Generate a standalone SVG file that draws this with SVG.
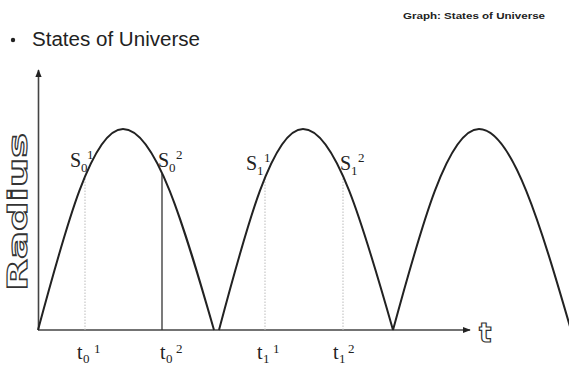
<svg xmlns="http://www.w3.org/2000/svg" width="569" height="367" viewBox="0 0 569 367">
<defs>
<style>
.ax{stroke:#444;stroke-width:1.6;fill:none}
.cv{stroke:#222;stroke-width:2;fill:none}
.dot{stroke:#bbb;stroke-width:1;stroke-dasharray:1.5 1.5}
.sol{stroke:#333;stroke-width:1.3}
.lbl{font-family:"Liberation Serif","Times New Roman",serif;fill:#222}
.big{font-size:20px}
.sm{font-size:13px}
.hollow{font-family:"DejaVu Sans","Liberation Sans",sans-serif;font-weight:bold;fill:#fff;stroke:#333;stroke-width:1.2}
</style>
<marker id="ah" viewBox="0 0 10 10" refX="9" refY="5" markerWidth="5" markerHeight="5" orient="auto">
<path d="M0,1 L10,5 L0,9 z" fill="#222"/>
</marker>
</defs>
<rect width="569" height="367" fill="#fff"/>
<text x="545" y="19" text-anchor="end" font-family="Liberation Sans,Arial,sans-serif" font-size="9" font-weight="bold" fill="#222" textLength="142" lengthAdjust="spacingAndGlyphs">Graph: States of Universe</text>
<g id="title" font-family="Liberation Sans,Arial,sans-serif" fill="#222">
<circle cx="13" cy="40" r="2.2"/>
<text x="32" y="46" font-size="20" textLength="168" lengthAdjust="spacingAndGlyphs">States of Universe</text>
</g>
<g id="axes">
<line class="ax" x1="38.5" y1="330" x2="38.5" y2="70" marker-end="url(#ah)"/>
<line class="ax" x1="38" y1="330" x2="470" y2="330" marker-end="url(#ah)"/>
<text class="hollow" transform="translate(27,291) rotate(-90)" font-size="27" textLength="158" lengthAdjust="spacingAndGlyphs">Radius</text>
<text class="hollow" x="479" y="342" font-size="26" font-family="Liberation Serif,serif">t</text>
</g>
<g id="guides">
<line class="dot" x1="85" y1="330" x2="85" y2="177"/>
<line class="sol" x1="162" y1="330" x2="162" y2="174"/>
<line class="dot" x1="265" y1="330" x2="265" y2="178"/>
<line class="dot" x1="343" y1="330" x2="343" y2="176"/>
</g>
<g id="curves">
<path class="cv" d="M38,330 C65.7,227 92.2,129 123,129 C155.9,129 184.3,227 214,330"/>
<path class="cv" d="M219,330 C246.4,227 272.6,129 303,129 C335.6,129 363.7,227 393,330"/>
<path class="cv" d="M393,330 C421,227 447.9,129 479,129 C512.3,129 541,227 571,330"/>
</g>
<g id="state-labels" class="lbl">
<text class="big" x="70" y="167">S</text><text class="sm" x="81" y="172">0</text><text class="sm" x="87" y="159">1</text>
<text class="big" x="158" y="167">S</text><text class="sm" x="169" y="172">0</text><text class="sm" x="176" y="159">2</text>
<text class="big" x="246" y="170">S</text><text class="sm" x="257" y="175">1</text><text class="sm" x="264" y="162">1</text>
<text class="big" x="340" y="170">S</text><text class="sm" x="351" y="175">1</text><text class="sm" x="358" y="162">2</text>
</g>
<g id="time-labels" class="lbl">
<text class="big" x="77" y="359">t</text><text class="sm" x="83" y="363">0</text><text class="sm" x="94" y="353">1</text>
<text class="big" x="160" y="359">t</text><text class="sm" x="166" y="363">0</text><text class="sm" x="176" y="353">2</text>
<text class="big" x="257" y="359">t</text><text class="sm" x="263" y="363">1</text><text class="sm" x="273" y="353">1</text>
<text class="big" x="333" y="359">t</text><text class="sm" x="339" y="363">1</text><text class="sm" x="348" y="353">2</text>
</g>
</svg>
